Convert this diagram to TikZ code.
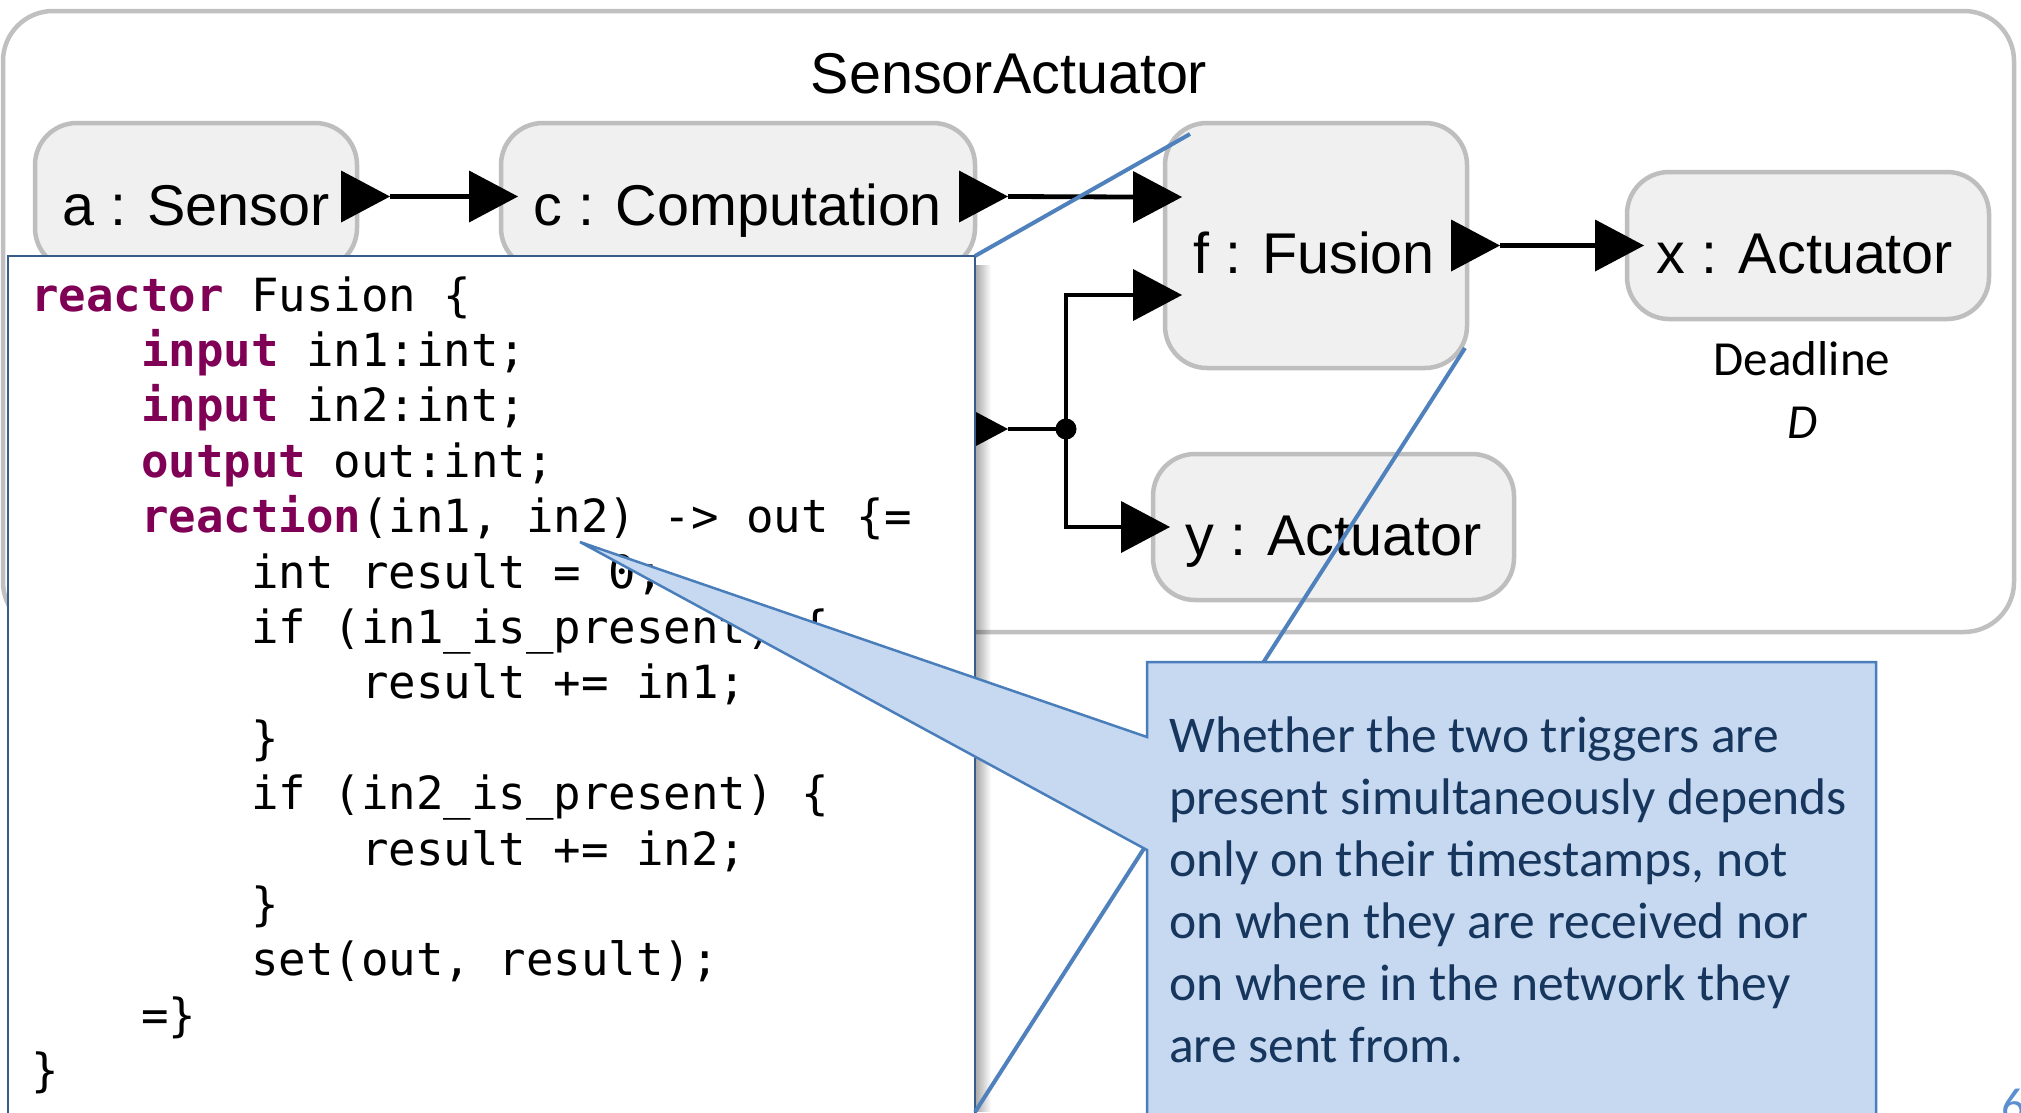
\documentclass[tikz,border=0pt]{standalone}
\usepackage{fontspec}
\usetikzlibrary{calc,fadings}
\newfontfamily\labfont{Liberation Sans}
\newfontfamily\notefont{Carlito}
\newfontfamily\codefont{DejaVu Sans Mono}
\definecolor{boxfill}{RGB}{240,240,240}
\definecolor{boxline}{RGB}{190,190,190}
\definecolor{frameline}{RGB}{192,192,192}
\definecolor{kw}{RGB}{127,0,85}
\definecolor{calloutfill}{RGB}{198,217,240}
\definecolor{calloutline}{RGB}{74,126,187}
\definecolor{zoomline}{RGB}{79,129,189}
\definecolor{notetext}{RGB}{23,54,93}
\definecolor{codeframe}{RGB}{56,93,138}
\definecolor{pagenum}{RGB}{91,143,208}
\tikzset{
  reactorbox/.style={draw=boxline, fill=boxfill, line width=4.5pt, rounded corners=42pt,
    inner sep=0pt, outer sep=0pt},
  lbl/.style={font=\labfont\fontsize{57.5}{69}\selectfont, inner sep=0pt, anchor=base},
  conn/.style={line width=4.8pt, draw=black},
  codeline/.style={font=\codefont\fontsize{45.7}{55}\selectfont, inner sep=0pt, anchor=base west},
  noteline/.style={font=\notefont\fontsize{51.5}{62}\selectfont, text=notetext, inner sep=0pt,
    anchor=base west},
  deadl/.style={font=\notefont\fontsize{49}{60}\selectfont, inner sep=0pt, anchor=base},
  zoomray/.style={draw=zoomline, line width=4pt},
}
% keyword in the code listing
\newcommand\kwd[1]{\textcolor{kw}{\bfseries #1}}
% underscore glyph of the monospaced font
\newcommand\us{\symbol{95}}
% output port: triangle straddling the right border at the given coordinate
\newcommand\outport[1]{\fill ($(#1)+(-16,-26)$) -- ++(49,26) -- ++(-49,26) -- cycle;}
% input port: triangle whose tip sits just inside the left border
\newcommand\inport[1]{\fill ($(#1)+(-32,-26)$) -- ++(49,26) -- ++(-49,26) -- cycle;}
\begin{document}
\begin{tikzpicture}[x=1pt,y=-1pt]
\useasboundingbox (0,0) rectangle (2021,1112);
\clip (0,0) rectangle (2021,1112);
\fill[white] (0,0) rectangle (2021,1112);

% enclosing reactor
\node[draw=frameline, line width=4.5pt, rounded corners=50pt, minimum width=2011pt,
  minimum height=621pt, inner sep=0pt, outer sep=0pt] (frame) at (1008.5,321.5) {};
\node[lbl] (title) at (1009,93) {SensorActuator};

% contained reactors
\node[reactorbox, minimum width=322pt, minimum height=147pt] (a) at (196,196.5) {};
\node[reactorbox, minimum width=474pt, minimum height=147pt] (c) at (738,196.5) {};
\node[reactorbox, minimum width=302pt, minimum height=245pt] (f) at (1316,245.5) {};
\node[reactorbox, minimum width=362pt, minimum height=147pt] (x) at (1808,245.5) {};
\node[reactorbox, minimum width=361pt, minimum height=146pt] (y) at (1333.5,527) {};

\node[lbl] (a-l) at ($(a.center)+(0,28.5)$) {a : Sensor};
\node[lbl] (c-l) at ($(c.center)+(0,28.5)$) {c : Computation};
\node[lbl] (f-l) at ($(f.center)+(-2,27.5)$) {f : Fusion};
\node[lbl] (x-l) at ($(x.center)+(-3,27.5)$) {x : Actuator};
\node[lbl] (y-l) at ($(y.center)+(0,28)$) {y : Actuator};

% ports
\coordinate (a-out) at (a.east);
\coordinate (c-in) at (c.west);
\coordinate (c-out) at (c.east);
\coordinate (f-in1) at ($(f.west)+(0,-48.5)$);
\coordinate (f-in2) at ($(f.west)+(0,49.5)$);
\coordinate (f-out) at (f.east);
\coordinate (x-in) at (x.west);
\coordinate (y-in) at (y.west);
\coordinate (b-out) at (975,429);
\coordinate (j) at (1066,429);

% connections
\draw[conn] ($(a-out)+(33,0)$) -- ($(c-in)+(-32,0)$);
\draw[conn] ($(c-out)+(33,0)$) -- ($(f-in1)+(-32,0)$);
\draw[conn] ($(f-out)+(33,0)$) -- ($(x-in)+(-32,0)$);
\draw[conn] ($(b-out)+(33,0)$) -- (j);
\draw[conn] ($(f-in2)+(-32,0)$) -| (j) |- ($(y-in)+(-32,0)$);
\fill (j) circle (10.5pt);
\outport{a-out}
\inport{c-in}
\outport{c-out}
\inport{f-in1}
\inport{f-in2}
\outport{f-out}
\inport{x-in}
\inport{y-in}
\outport{b-out}

% deadline annotation
\node[deadl] (dl) at (1802,375) {Deadline};
\node[deadl, font=\notefont\itshape\fontsize{49}{60}\selectfont] (dl-D) at (1803,438) {D};

% code listing with its shadow
\fill[black, opacity=0.35, path fading=east] (975,264) rectangle (991,1112);
\node[draw=codeframe, fill=white, line width=2pt, minimum width=967pt, minimum height=944pt,
  inner sep=0pt, outer sep=0pt] (code) at (491.5,728) {};
\node[codeline] (l1) at (31,311) {\kwd{reactor} Fusion \{};
\node[codeline] (l2) at (141,366.4) {\kwd{input} in1:int;};
\node[codeline] (l3) at (141,421.8) {\kwd{input} in2:int;};
\node[codeline] (l4) at (141,477.2) {\kwd{output} out:int;};
\node[codeline] (l5) at (141,532.6) {\kwd{reaction}(in1, in2) -> out \{=};
\node[codeline] (l6) at (251,588) {int result = 0;};
\node[codeline] (l7) at (251,643.4) {if (in1\us is\us present) \{};
\node[codeline] (l8) at (361,698.8) {result += in1;};
\node[codeline] (l9) at (251,754.2) {\}};
\node[codeline] (l10) at (251,809.6) {if (in2\us is\us present) \{};
\node[codeline] (l11) at (361,865) {result += in2;};
\node[codeline] (l12) at (251,920.4) {\}};
\node[codeline] (l13) at (251,975.8) {set(out, result);};
\node[codeline] (l14) at (141,1031.2) {=\}};
\node[codeline] (l15) at (31,1086.6) {\}};

% rays linking the listing to the Fusion reactor
\coordinate (rayA) at ($(f.north west)+(25,11)$);
\coordinate (rayB) at ($(f.south east)+(-2,-20)$);
\coordinate (rayfoot) at ($(code.north east)+(0,856)$);
\draw[zoomray] (rayA) -- (code.north east);
\draw[zoomray] (rayB) -- (rayfoot);

% callout
\coordinate (tip) at (580,542);
\draw[draw=calloutline, fill=calloutfill, line width=2.5pt, line join=miter]
  (1147,662) -- (1876,662) -- (1876,1140) -- (1147,1140) -- (1147,850) -- (tip)
  -- (1147,737) -- cycle;
\node[noteline] (n1) at (1169,752) {Whether the two triggers are};
\node[noteline] (n2) at (1169,814) {present simultaneously depends};
\node[noteline] (n3) at (1169,876) {only on their timestamps, not};
\node[noteline] (n4) at (1169,938) {on when they are received nor};
\node[noteline] (n5) at (1169,1000) {on where in the network they};
\node[noteline] (n6) at (1169,1062) {are sent from.};

\node[font=\notefont\fontsize{48}{58}\selectfont, text=pagenum, anchor=base west, inner sep=0pt]
  (pg) at (2001,1121) {6};
\end{tikzpicture}
\end{document}
